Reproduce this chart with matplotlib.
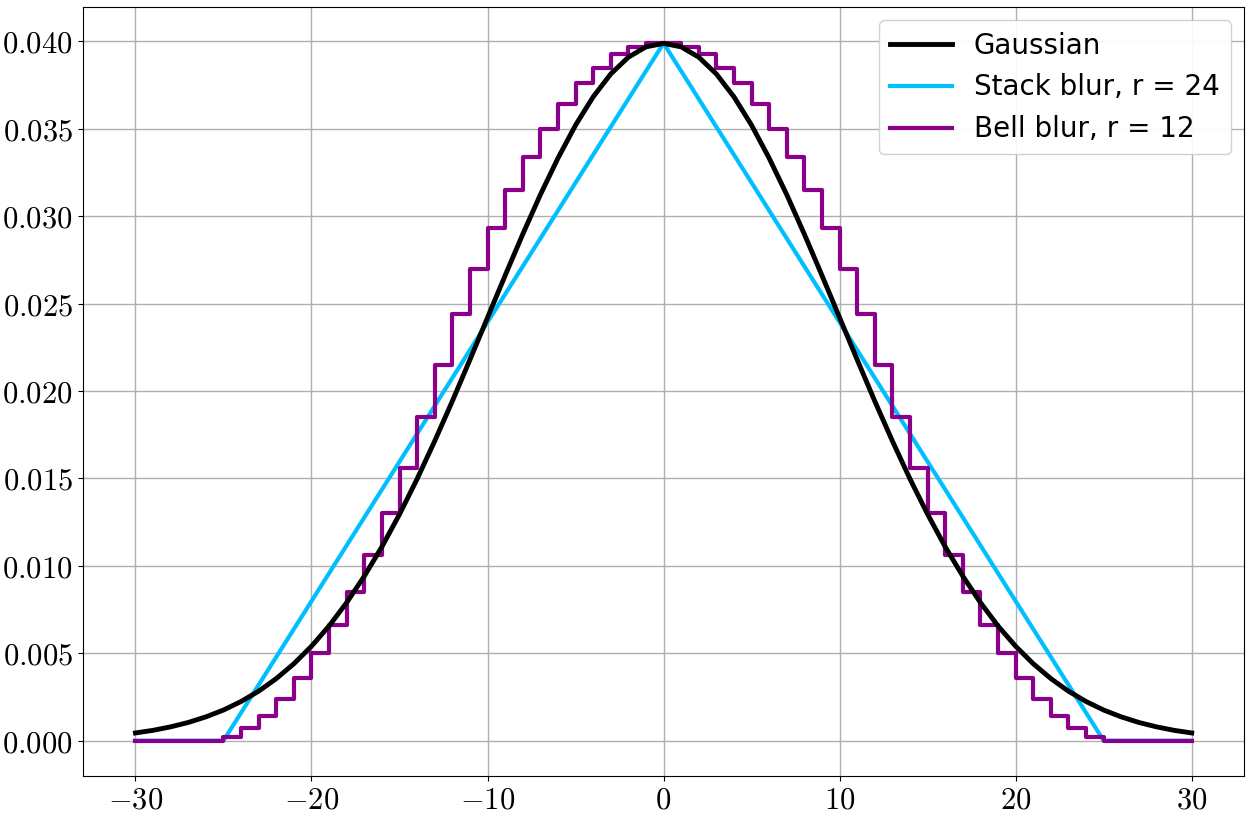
import matplotlib
matplotlib.use("Agg")
import matplotlib.pyplot as plt
import numpy as np

plt.rcParams['mathtext.fontset'] = 'cm'

# Gaussian values read at x = 0..30 (symmetric)
gauss_half = [0.03989, 0.03969, 0.03910, 0.03814, 0.03683, 0.03521, 0.03332, 0.03123,
              0.02897, 0.02661, 0.02420, 0.02179, 0.01942, 0.01714, 0.01497, 0.01295,
              0.01109, 0.00941, 0.00790, 0.00656, 0.00540, 0.00440, 0.00355, 0.00283,
              0.00224, 0.00175, 0.00136, 0.00104, 0.00079, 0.00059, 0.00044]
gauss_x = list(range(-30, 31))
gauss_y = gauss_half[:0:-1] + gauss_half

# Stack blur (triangle)
stack_x = [-30, -25, 0, 25, 30]
stack_y = [0.0, 0.0, 0.0399, 0.0, 0.0]

# Bell blur step levels on intervals [k, k+1], k = 0..24 (symmetric)
bell_half = [0.0399, 0.0397, 0.0393, 0.0385, 0.0376, 0.0364, 0.0350, 0.0334, 0.0315,
             0.0293, 0.0270, 0.0244, 0.0215, 0.0185, 0.0156, 0.0130, 0.0106, 0.0085,
             0.0066, 0.0050, 0.0036, 0.0024, 0.0014, 0.0007, 0.0002]
bell_levels = [0.0] + bell_half[::-1] + bell_half + [0.0, 0.0]
bell_edges = [-30] + list(range(-25, 26)) + [30]

fig = plt.figure(figsize=(12.52, 8.13), dpi=100)
ax = fig.add_axes([0.066, 0.046, 0.928, 0.946])
ax.plot(gauss_x, gauss_y, color='black', lw=3.5, label='Gaussian', zorder=3)
ax.plot(stack_x, stack_y, color='#00bfff', lw=3, label='Stack blur, r = 24', zorder=2)
ax.step(bell_edges, bell_levels, where='post', color='#8b008b', lw=3, label='Bell blur, r = 12', zorder=2)

ax.set_xlim(-33, 33)
ax.set_ylim(-0.002, 0.042)
xt = [-30, -20, -10, 0, 10, 20, 30]
ax.set_xticks(xt)
ax.set_xticklabels([f'$-{abs(v)}$' if v < 0 else f'${v}$' for v in xt], fontsize=22)
yt = np.arange(0, 0.0401, 0.005)
ax.set_yticks(yt)
ax.set_yticklabels([f'${v:.3f}$' for v in yt], fontsize=22)
ax.grid(True, color='#b0b0b0', lw=1)
ax.set_axisbelow(True)
ax.legend(loc='upper right', fontsize=20, handlelength=2.2, framealpha=0.9)
fig.savefig('out.png', dpi=100)
